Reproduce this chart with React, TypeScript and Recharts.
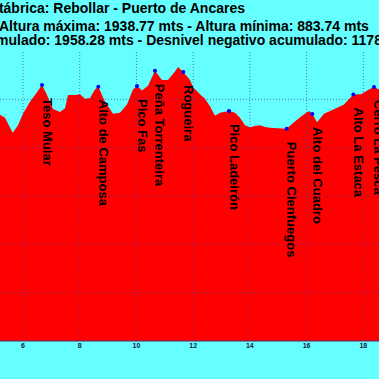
import React from 'react';
import { AreaChart, Area, XAxis, YAxis, ReferenceLine, ReferenceDot } from 'recharts';

const distances = [5.189, 5.365, 5.637, 5.824, 6.0, 6.247, 6.494, 6.67, 6.846, 7.058, 7.305, 7.481, 7.587, 7.834, 8.01, 8.186, 8.363, 8.539, 8.655, 8.891, 9.173, 9.42, 9.667, 9.879, 10.02, 10.196, 10.408, 10.654, 10.901, 11.113, 11.36, 11.465, 11.652, 11.889, 12.0, 12.241, 12.418, 12.594, 12.77, 12.947, 13.264, 13.475, 13.652, 13.828, 14.004, 14.18, 14.357, 14.533, 14.709, 15.0, 15.298, 15.556, 15.838, 16.085, 16.201, 16.367, 16.614, 16.966, 17.319, 17.566, 17.647, 17.918, 18.2, 18.376, 18.553];
const elevations = [1736, 1724, 1662, 1693, 1740, 1790, 1829, 1859, 1818, 1760, 1748, 1763, 1818, 1818, 1821, 1802, 1806, 1841, 1852, 1790, 1740, 1744, 1779, 1841, 1855, 1837, 1856, 1918, 1880, 1880, 1915, 1934, 1913, 1880, 1850, 1821, 1802, 1771, 1732, 1744, 1752, 1744, 1724, 1693, 1685, 1690, 1693, 1686, 1682, 1680, 1678, 1705, 1732, 1752, 1739, 1705, 1740, 1759, 1779, 1810, 1820, 1821, 1841, 1851, 1841];

const peakNames = ['Teso Mular', 'Alto de Camposa', 'Pico Fas', 'Peña Torrenteira', 'Rogueira', 'Pico Ladeirón', 'Puerto Cienfuegos', 'Alto del Cuadro', 'Alto La Estaca', 'Cerro La Pesca'];
const peakDistances = [6.67, 8.655, 10.02, 10.654, 11.652, 13.264, 15.298, 16.201, 17.647, 18.376];
const peakElevations = [1859, 1852, 1855, 1918, 1913, 1752, 1678, 1739, 1820, 1851];

const xTicks = [6, 8, 10, 12, 14, 16, 18];
const yTicks = [800, 1000, 1200, 1400, 1600, 1800, 2000];

const titleLines = [
  'Cantábrica: Rebollar - Puerto de Ancares',
  'Altura máxima: 1938.77 mts - Altura mínima: 883.74 mts',
  'mulado: 1958.28 mts - Desnivel negativo acumulado: 1178',
];

const data = distances.map((d, i) => ({ km: d, elev: elevations[i] }));

const FONT = '"Liberation Sans", Arial, sans-serif';

const makeLabel = (name: string) => (props: any) => {
  const vb = props.viewBox || {};
  const cx = (vb.x ?? 0) + (vb.width ?? 0) / 2;
  const cy = (vb.y ?? 0) + (vb.height ?? 0) / 2;
  const tx = cx + 0.5;
  const ty = cy + 13;
  return (
    <text
      x={tx}
      y={ty}
      transform={`rotate(90 ${tx} ${ty})`}
      fontFamily={FONT}
      fontWeight="bold"
      fontSize={13}
      fill="#000000"
      textAnchor="start"
    >
      {name}
    </text>
  );
};

export default function App() {
  return (
    <div style={{ position: 'fixed', left: 0, top: 0, width: 379, height: 379, overflow: 'hidden', background: '#66ffff' }}>
      <AreaChart width={379} height={379} data={data} margin={{ top: 51, right: 0, bottom: 19, left: 0 }}>
        <XAxis
          dataKey="km"
          type="number"
          domain={[5.189, 18.553]}
          allowDataOverflow
          ticks={xTicks}
          tickLine={false}
          tickSize={0}
          tickMargin={2}
          height={19}
          axisLine={{ stroke: '#5a2a6a' }}
          tick={{ fontSize: 7, fontWeight: 'bold', fill: '#1a1a3a', fontFamily: FONT }}
        />
        <YAxis hide type="number" domain={[800, 2000]} ticks={yTicks} allowDataOverflow />
        <Area type="linear" dataKey="elev" stroke="none" fill="#ff0000" fillOpacity={1} isAnimationActive={false} />
        {xTicks.map((t) => (
          <ReferenceLine key={'x' + t} x={t} stroke="#3a3a9a" strokeOpacity={0.7} strokeDasharray="1 2" />
        ))}
        {yTicks.slice(1, -1).map((t) => (
          <ReferenceLine key={'y' + t} y={t} stroke="#3a3a9a" strokeOpacity={0.7} strokeDasharray="1 2" />
        ))}
        {peakNames.map((n, i) => (
          <ReferenceDot
            key={n}
            x={peakDistances[i]}
            y={peakElevations[i]}
            r={2}
            fill="#0000ff"
            stroke="none"
            label={makeLabel(n)}
          />
        ))}
      </AreaChart>
      <div style={{ position: 'absolute', left: 0, top: 0, width: 379, fontFamily: FONT, fontWeight: 'bold', fontSize: 14, color: '#000', whiteSpace: 'nowrap' }}>
        <div style={{ position: 'absolute', right: 379 - 245, top: 0, lineHeight: '16px' }}>{titleLines[0]}</div>
        <div style={{ position: 'absolute', left: -1, top: 18, lineHeight: '16px' }}>{titleLines[1]}</div>
        <div style={{ position: 'absolute', left: -4, top: 32, lineHeight: '16px' }}>{titleLines[2]}</div>
      </div>
    </div>
  );
}
